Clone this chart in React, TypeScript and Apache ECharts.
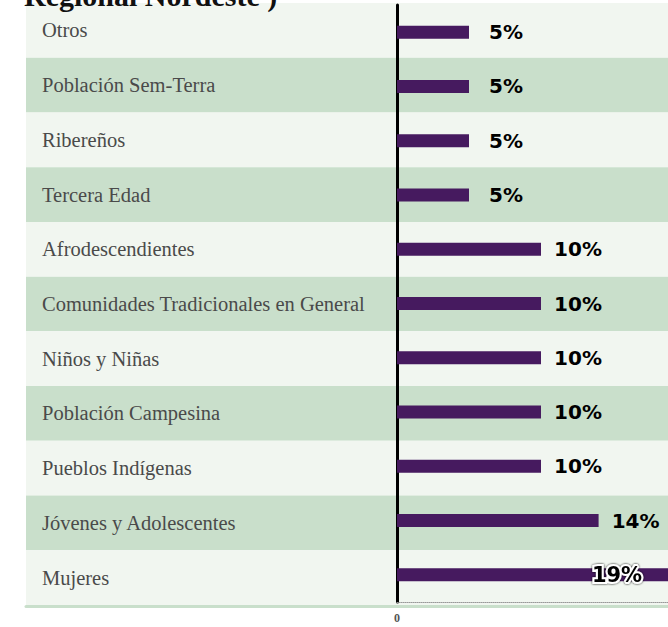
import React, { useEffect, useRef } from "react";
import * as echarts from "echarts";

const categories = [
  "Otros",
  "Población Sem-Terra",
  "Ribereños",
  "Tercera Edad",
  "Afrodescendientes",
  "Comunidades Tradicionales en General",
  "Niños y Niñas",
  "Población Campesina",
  "Pueblos Indígenas",
  "Jóvenes y Adolescentes",
  "Mujeres",
];
const values = [5, 5, 5, 5, 10, 10, 10, 10, 10, 14, 19];
const titleText = "Regional Nordeste )";

export default function App() {
  const ref = useRef<HTMLDivElement>(null);
  useEffect(() => {
    document.body.style.margin = "0";
    const chart = echarts.init(ref.current!, null, { renderer: "svg" });
    const maxVal = 18.82;
    const option = {
      animation: false,
      title: {
        text: titleText,
        left: 24,
        top: -20,
        padding: 0,
        textStyle: {
          fontFamily: "Liberation Serif",
          fontSize: 30,
          fontWeight: "bold",
          color: "#111",
        },
      },
      grid: [
        { left: 26, right: 0, top: 3, bottom: 22, containLabel: false, outerBoundsMode: "none" },
        { left: 397, right: 0, top: 5, bottom: 25, containLabel: false, outerBoundsMode: "none" },
      ],
      xAxis: [
        {
          gridIndex: 0,
          type: "value",
          min: 0,
          max: 1,
          offset: 1.5,
          axisLine: { show: true, lineStyle: { color: "#c9dfcb", width: 3 } },
          axisTick: { show: false },
          axisLabel: { show: false },
          splitLine: { show: false },
        },
        {
          gridIndex: 1,
          type: "value",
          min: 0,
          max: maxVal,
          interval: maxVal,
          axisLine: { show: true, lineStyle: { color: "#999", width: 1, type: "dotted" } },
          axisTick: { show: false },
          splitLine: { show: false },
          axisLabel: {
            margin: 10,
            showMaxLabel: false,
            fontFamily: "Liberation Serif",
            fontSize: 12,
            fontWeight: "bold",
            color: "#555",
            formatter: (v: number) => (v === 0 ? "0" : ""),
          },
        },
      ],
      yAxis: [
        {
          gridIndex: 0,
          type: "category",
          inverse: true,
          data: categories,
          axisLine: { show: false },
          axisTick: { show: false },
          splitLine: { show: false },
          splitArea: {
            show: true,
            areaStyle: { color: ["#f1f6f0", "#c9dfcb"] },
          },
          axisLabel: {
            inside: true,
            margin: 16,
            fontFamily: "Liberation Serif",
            fontSize: 20.5,
            color: "#4a4a4a",
          },
        },
        {
          gridIndex: 1,
          type: "category",
          inverse: true,
          data: categories,
          axisLine: { show: true, onZero: false, lineStyle: { color: "#000", width: 3 } },
          axisTick: { show: false },
          axisLabel: { show: false },
          splitLine: { show: false },
        },
      ],
      series: [
        {
          type: "bar",
          xAxisIndex: 1,
          yAxisIndex: 1,
          barWidth: 13,
          itemStyle: { color: "#461a5f" },
          data: values.map((v, i) =>
            i === values.length - 1
              ? {
                  value: v,
                  label: {
                    position: "insideRight",
                    distance: 51,
                    align: "center",
                    fontSize: 21,
                    textBorderColor: "#fff",
                    textBorderWidth: 4,
                    textShadowColor: "#000",
                    textShadowBlur: 2,
                  },
                }
              : v
          ),
          label: {
            show: true,
            position: "right",
            distance: 37,
            align: "center",
            formatter: (p: any) => p.value + "%",
            fontFamily: "DejaVu Sans",
            fontWeight: "bold",
            fontSize: 20,
            color: "#000",
          },
        },
      ],
    };
    chart.setOption(option as any);
    return () => chart.dispose();
  }, []);
  return <div ref={ref} style={{ width: 668, height: 627 }} />;
}
